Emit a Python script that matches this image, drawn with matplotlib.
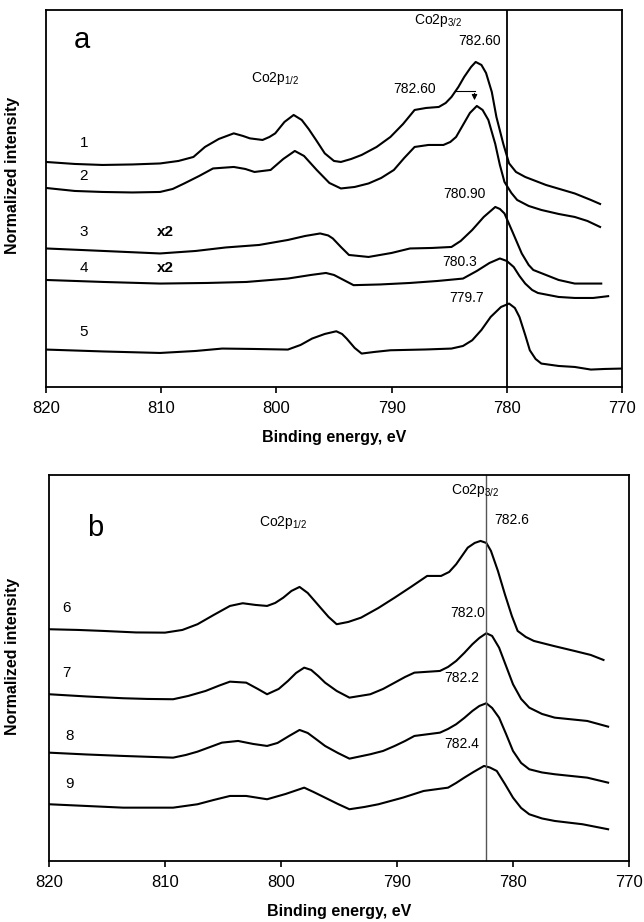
import matplotlib
matplotlib.use("Agg")
import matplotlib.pyplot as plt

plt.rcParams['font.family'] = ['Liberation Sans', 'DejaVu Sans']
plt.rcParams['mathtext.fontset'] = 'custom'
plt.rcParams['mathtext.rm'] = 'Liberation Sans'
plt.rcParams['mathtext.default'] = 'regular'

# ---- panel a spectra (binding energy, eV ; intensity, arb. units) ----
e1 = [820, 817.5, 815.1, 812.5, 810.1, 808.5, 807.2, 806.2, 805.0, 803.7, 802.9, 802.3, 801.2,
      800.6, 800.1, 799.3, 798.5, 797.8, 797.2, 796.5, 795.8, 795.0, 794.4, 793.5, 792.6, 791.3,
      790.1, 789.0, 788.0, 787.0, 785.9, 785.3, 784.8, 784.2, 783.7, 783.1, 782.7, 782.2, 781.8,
      781.3, 780.9, 780.3, 779.8, 779.2, 778.4, 776.6, 774.1, 772.7, 771.9]
i1 = [225, 223, 222, 222.5, 223.5, 226, 230, 240, 248, 253.6, 251, 248.6, 247,
      250, 253.6, 265, 272, 267, 258, 246, 233.6, 226, 225, 228, 232, 240,
      250, 263, 277, 279, 280, 284, 290, 300, 310, 320, 325, 322, 314,
      295, 270, 243, 223.6, 215, 210, 202, 193.5, 187, 183]

e2 = [820, 817.5, 815.1, 812.5, 810.1, 809, 808, 806.7, 805.5, 803.7, 802.7, 801.9, 800.5,
      799.4, 798.4, 797.6, 796.5, 795.4, 794.4, 793.2, 792, 790.9, 789.8, 788.9, 788, 786.8,
      785.5, 784.9, 784.4, 783.8, 783.2, 782.6, 782.1, 781.6, 781.0, 780.6, 780.2, 779.6,
      779.1, 778.1, 777, 775.5, 774.1, 773, 771.9]
i2 = [199, 196, 195, 194.5, 195, 198, 203.5, 211, 218.5, 220, 218, 215, 217,
      228, 236, 231, 217, 204, 198.5, 200, 203.5, 209, 217, 229, 240, 242,
      242, 245, 250, 262, 274, 281, 277, 267, 243, 222, 205, 194,
      187, 181, 177, 173, 170, 166, 160]

e3 = [820, 815, 810.1, 807, 804.4, 801.5, 799, 797.5, 796.2, 795.5, 795.1, 794.4, 793.7,
      792, 790, 788.4, 786.5, 784.8, 784, 783.0, 782.0, 781.0, 780.6, 780.2, 779.5, 778.7,
      778.1, 777.7, 776.6, 775.5, 774.1, 771.8]
i3 = [138.5, 136, 133.5, 136, 139.5, 142, 147, 151, 153.5, 151.5, 148.5, 140, 132,
      130, 134, 138.5, 139, 140, 146, 157, 170, 180, 178, 173.5, 155, 133.5,
      122, 117, 112, 107, 103.4, 103.4]

e4 = [820, 815, 810.1, 806, 802.6, 799, 797, 795.7, 795, 794.4, 793.3, 791, 788.4, 786,
      783.8, 782.6, 781.5, 780.6, 780.0, 779.4, 778.9, 778.4, 777.8, 777.3, 775.5, 774.1,
      772.5, 771.2]
i4 = [107, 105, 103.4, 104, 105, 108.4, 112, 114, 112, 108.4, 101.8, 102.5, 104, 106,
      108.4, 116, 124, 128.5, 126, 120, 111, 103.4, 97, 94, 90, 89,
      89, 90.8]

e5 = [820, 815, 810.1, 807, 804.7, 802, 799, 797.9, 796.9, 795.8, 794.8, 794.3, 793.9,
      793.2, 792.6, 791.5, 790.1, 787, 784.8, 783.8, 783, 782.2, 781.4, 780.5, 779.8, 779.3,
      778.9, 778.4, 778, 777.5, 777, 775.5, 774.1, 772.7, 771.5, 770]
i5 = [37.4, 35.5, 34, 36, 38.4, 38, 37.4, 42, 48.4, 53, 55.7, 53, 48.4,
      39, 33.4, 35, 36.7, 37.5, 38.4, 41, 46.7, 57, 70, 80, 83.4, 79,
      70, 52, 36.7, 28, 23.4, 21, 20, 17.4, 18, 18.4]

# ---- panel b spectra ----
e6 = [820, 817.5, 815.3, 812.5, 810, 808.5, 807.2, 805.8, 804.4, 803.3, 802.2, 801.2, 800.5,
      799.8, 799.1, 798.4, 797.7, 797.1, 796.6, 795.9, 795.2, 794.2, 793.1, 791.6, 790.2,
      788.8, 787.4, 786.2, 785.5, 784.9, 784.4, 783.9, 783.3, 782.8, 782.3, 781.9, 781.3,
      780.7, 780.1, 779.6, 778.9, 778.2, 776.5, 774.7, 773.3, 772.2]
i6 = [231.7, 231, 230, 228.5, 228.3, 231, 236.7, 246, 255, 257.7, 256, 255, 258,
      263.3, 270, 274, 268, 260, 253.3, 244, 236.7, 239, 243.3, 253, 263.3,
      274, 285, 285, 289, 296.7, 305, 313.3, 318, 320, 318, 310, 290,
      266.7, 245, 230, 224, 220, 215, 210, 206, 201]

e7 = [820, 816.8, 813.6, 811.5, 809.3, 808, 806.5, 805.3, 804.4, 803, 802, 801.2, 800.2,
      799.4, 798.7, 798, 797.4, 796.8, 796.2, 795.2, 794.1, 792.3, 791.2, 790.2, 789.3,
      788.5, 786.3, 785.6, 784.9, 784.2, 783.5, 782.9, 782.3, 781.8, 781.2, 780.6, 780,
      779.3, 778.6, 777.5, 776.4, 773.6, 771.8]
i7 = [166.7, 164.5, 162.7, 162, 161.7, 165, 170, 175.5, 179.3, 178.3, 172, 166.7, 172,
      180, 188, 193.3, 191, 185, 178.3, 170, 163.3, 166.7, 172, 178.3, 184,
      188.3, 190, 194, 200, 208, 216.7, 223, 227.7, 225, 213.3, 195, 176.7,
      162, 153.3, 147, 143.3, 140, 134.3]

e8 = [820, 816.8, 813.6, 809.3, 808.2, 807.2, 806.1, 805.1, 803.7, 802.4, 801.2, 800.3,
      799.3, 798.4, 797.7, 797.0, 796.2, 795.1, 794.1, 792.3, 791.2, 790.2, 789.3, 788.5,
      786.3, 785.6, 784.9, 784.2, 783.5, 782.9, 782.3, 781.8, 781.2, 780.6, 780, 779.3,
      778.6, 777.5, 776.4, 773.6, 771.8]
i8 = [108.3, 106.5, 105, 103.3, 106, 109.3, 114, 118.3, 120, 117, 115, 118,
      125, 131, 128, 122, 115, 108, 102.3, 106.7, 110, 115, 120, 125,
      128.3, 132, 136.7, 143, 150, 155, 157.7, 153, 143.3, 127, 110, 98,
      91.7, 88.5, 86.7, 83.3, 78.3]

e9 = [820, 816.8, 813.6, 809.3, 807.2, 805.8, 804.4, 803, 801.2, 799.6, 798, 797.2, 796.2,
      795.1, 794.1, 792.8, 791.6, 789.5, 787.7, 785.6, 784.9, 784.2, 783.4, 782.5, 782,
      781.4, 780.7, 780, 779.3, 778.6, 777.5, 776.4, 774, 771.8]
i9 = [56.7, 55, 53.3, 53.3, 56.7, 61, 65, 65, 61.7, 67, 73.3, 69, 63.3,
      57, 51.7, 54, 56.7, 63.3, 70, 73.3, 78, 83.3, 89, 95, 93.5,
      90, 77, 63.3, 53, 46.7, 42.5, 40, 36.7, 31.7]

fig = plt.figure(figsize=(6.44, 9.22), dpi=100)
ax1 = fig.add_axes([0.0714, 0.5803, 0.8944, 0.4089])
ax2 = fig.add_axes([0.0761, 0.0662, 0.9006, 0.4187])

for ax, ymax in ((ax1, 377), (ax2, 386)):
    ax.set_xlim(820, 770)
    ax.set_ylim(0, ymax)
    ax.set_xticks([820, 810, 800, 790, 780, 770])
    ax.set_yticks([])
    ax.tick_params(axis='x', direction='out', length=4, width=1.2, labelsize=12, pad=6)
    for s in ax.spines.values():
        s.set_linewidth(1.3)
    ax.set_xlabel('Binding energy, eV', fontsize=11.5, fontweight='bold', labelpad=10)
    ax.set_ylabel('Normalized intensity', fontsize=11.5, fontweight='bold')

ax1.yaxis.set_label_coords(-0.045, 0.56)
ax2.yaxis.set_label_coords(-0.05, 0.53)

# panel a
for e, i in ((e1, i1), (e2, i2), (e3, i3), (e4, i4), (e5, i5)):
    ax1.plot(e, i, color='black', lw=1.5)
ax1.axvline(780, color='black', lw=1.3)

ax1.text(816.9, 347, 'a', fontsize=21, ha='center', va='center')
ax1.text(786.0, 366, 'Co2p$_{3/2}$', fontsize=10, ha='center', va='center')
ax1.text(782.4, 346, '782.60', fontsize=10, ha='center', va='center')
ax1.text(800.1, 308, 'Co2p$_{1/2}$', fontsize=10, ha='center', va='center')
ax1.text(788.0, 297.6, '782.60', fontsize=10, ha='center', va='center')
ax1.plot([784.4, 782.8], [296, 296], color='black', lw=0.8)
ax1.annotate('', xy=(782.8, 284), xytext=(782.8, 296.3),
             arrowprops=dict(arrowstyle='-|>', color='black', lw=0.8, mutation_scale=8))
ax1.text(783.7, 193, '780.90', fontsize=10, ha='center', va='center')
ax1.text(784.1, 124.5, '780.3', fontsize=10, ha='center', va='center')
ax1.text(783.5, 89, '779.7', fontsize=10, ha='center', va='center')

for lab, y in (('1', 244), ('2', 211), ('3', 155), ('4', 118.5), ('5', 55)):
    ax1.text(816.7, y, lab, fontsize=11, ha='center', va='center')
ax1.text(809.6, 154.5, 'x2', fontsize=11, fontweight='bold', ha='center', va='center')
ax1.text(809.6, 118.5, 'x2', fontsize=11, fontweight='bold', ha='center', va='center')

# panel b
for e, i in ((e6, i6), (e7, i7), (e8, i8), (e9, i9)):
    ax2.plot(e, i, color='black', lw=1.5)
ax2.axvline(782.35, color='#555555', lw=1.0)

ax2.text(816.0, 333, 'b', fontsize=21, ha='center', va='center')
ax2.text(783.3, 370, 'Co2p$_{3/2}$', fontsize=10, ha='center', va='center')
ax2.text(780.1, 340.7, '782.6', fontsize=10, ha='center', va='center')
ax2.text(799.8, 338, 'Co2p$_{1/2}$', fontsize=10, ha='center', va='center')
ax2.text(783.9, 248, '782.0', fontsize=10, ha='center', va='center')
ax2.text(784.4, 183, '782.2', fontsize=10, ha='center', va='center')
ax2.text(784.4, 117, '782.4', fontsize=10, ha='center', va='center')
for lab, x, y in (('6', 818.5, 253), ('7', 818.5, 188), ('8', 818.2, 125), ('9', 818.2, 77)):
    ax2.text(x, y, lab, fontsize=11, ha='center', va='center')

fig.savefig('out.png', dpi=100)
